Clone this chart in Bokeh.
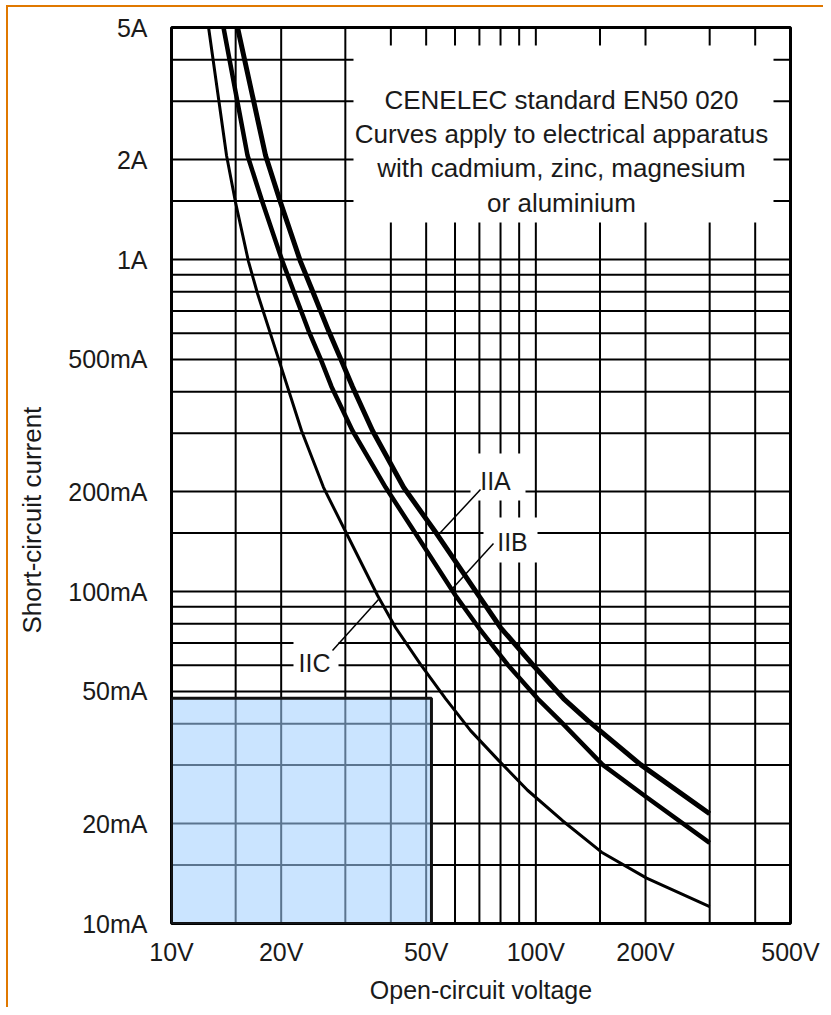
from math import log10
from bokeh.plotting import figure
from bokeh.models import FixedTicker, Range1d, Title
from bokeh.core.properties import value
from bokeh.embed import file_html
from bokeh.resources import INLINE

# ---------------- data ----------------
x_tick_values = [10, 20, 50, 100, 200, 500]
x_tick_labels = ["10V", "20V", "50V", "100V", "200V", "500V"]
y_tick_values = [10, 20, 50, 100, 200, 500, 1000, 2000, 5000]
y_tick_labels = ["10mA", "20mA", "50mA", "100mA", "200mA", "500mA", "1A", "2A", "5A"]

x_grid = [15, 20, 30, 40, 50, 60, 70, 80, 90, 100, 150, 200, 300, 400]
y_grid = [15, 20, 30, 40, 50, 60, 70, 80, 90, 100, 150, 200, 300, 400,
          500, 600, 700, 800, 900, 1000, 1500, 2000, 3000, 4000]

# open-circuit voltage (V) / short-circuit current (mA)
iia_v = [15.18, 18.12, 19.92, 22.60, 24.54, 26.97, 29.11, 31.39, 35.63, 43.35,
         53.40, 69.62, 80.0, 97.9, 119.1, 138.7, 193.9, 300]
iia_i = [5000, 2057, 1485, 986, 790, 611, 503, 414, 305, 206,
         149.5, 97.3, 77.9, 60.3, 47.6, 40.9, 30.1, 21.4]

iib_v = [13.89, 16.17, 17.78, 20.17, 21.76, 23.77, 25.64, 27.49, 31.39, 38.69,
         46.76, 60.20, 69.62, 83.6, 101.1, 116.2, 152.4, 201.4, 300]
iib_i = [5000, 2057, 1485, 986, 790, 611, 503, 414, 305, 206,
         149.5, 97.3, 77.9, 60.3, 47.6, 40.9, 30.1, 24.0, 17.5]

iic_v = [12.64, 14.16, 14.99, 16.27, 17.22, 19.66, 22.75, 26.13, 30.23, 36.78,
         41.20, 48.26, 56.52, 66.20, 79.0, 94.9, 118.4, 151.5, 201.4, 300]
iic_i = [5000, 2057, 1485, 986, 790, 503, 305, 206, 149.5, 97.3,
         77.9, 60.3, 47.6, 38.1, 31.0, 25.2, 20.4, 16.4, 13.7, 11.25]

safe_v = [10, 51.7]
safe_i = [10, 47.7]

curve_names = ["IIA", "IIB", "IIC"]
note_lines = ["CENELEC standard EN50 020",
              "Curves apply to electrical apparatus",
              "with cadmium, zinc, magnesium",
              "or aluminium"]

# ---------------- layout helpers ----------------
FONT = "Liberation Sans"
TXT = "#1a1a1a"
X0, X1, Y0, Y1 = 10, 500, 10, 5000
FL, FT, FW, FH = 171, 27, 619, 896   # frame position on page (px)
CX, CY = 8, 7                         # canvas origin on page (px)


def fx(px):
    return 10 ** (log10(X0) + (px - FL) / FW * (log10(X1) - log10(X0)))


def fy(py):
    return 10 ** (log10(Y0) + (FT + FH - py) / FH * (log10(Y1) - log10(Y0)))


p = figure(x_axis_type="log", y_axis_type="log",
           x_range=Range1d(X0, X1), y_range=Range1d(Y0, Y1),
           frame_width=FW, frame_height=FH,
           min_border_left=FL - CX, min_border_right=33,
           min_border_top=FT - CY, min_border_bottom=84,
           output_backend="svg", toolbar_location=None)
p.styles = {"border-top": "2px solid #e07800", "border-left": "2px solid #e07800",
            "margin-top": "5px", "margin-left": "6px"}
p.background_fill_color = "white"
p.border_fill_color = "white"
p.outline_line_color = "black"
p.outline_line_width = 3
p.xgrid.visible = False
p.ygrid.visible = False

for ax in (p.xaxis[0], p.yaxis[0]):
    ax.axis_line_color = None
    ax.major_tick_line_color = None
    ax.minor_tick_line_color = None
    ax.major_tick_out = 0
    ax.major_tick_in = 0
    ax.minor_tick_out = 0
    ax.minor_tick_in = 0
    ax.major_label_text_font = FONT
    ax.major_label_text_font_size = "25px"
    ax.major_label_text_color = TXT

p.xaxis.ticker = FixedTicker(ticks=x_tick_values)
p.xaxis.major_label_overrides = {v: t for v, t in zip(x_tick_values, x_tick_labels)}
p.xaxis.major_label_standoff = 14
p.yaxis.ticker = FixedTicker(ticks=y_tick_values)
p.yaxis.major_label_overrides = {v: t for v, t in zip(y_tick_values, y_tick_labels)}
p.yaxis.major_label_standoff = 24
# empty spacer label so that the title sits further left
p.yaxis.axis_label = " "
p.yaxis.axis_label_text_font_size = "8px"
p.yaxis.axis_label_standoff = 2

p.xaxis.axis_label = "Open-circuit voltage"
p.xaxis.axis_label_text_font = FONT
p.xaxis.axis_label_text_font_size = "25px"
p.xaxis.axis_label_text_font_style = "normal"
p.xaxis.axis_label_text_color = TXT
p.xaxis.axis_label_standoff = 7

ytitle = Title(text="Short-circuit current", align="left", offset=290,
               text_font=FONT, text_font_size="26px", text_font_style="normal",
               text_color=TXT)
p.add_layout(ytitle, "left")

# grid lines
p.segment(x0=x_grid, y0=[Y0] * len(x_grid), x1=x_grid, y1=[Y1] * len(x_grid),
          line_color="black", line_width=2)
p.segment(x0=[X0] * len(y_grid), y0=y_grid, x1=[X1] * len(y_grid), y1=y_grid,
          line_color="black", line_width=2)

# safe area box
p.quad(left=[safe_v[0]], right=[safe_v[1]], bottom=[safe_i[0]], top=[safe_i[1]],
       fill_color="#a0cfff", fill_alpha=0.56, line_color="#111111", line_width=3)

# white backgrounds for labels and note
p.quad(left=[fx(470), fx(483), fx(293), fx(353)],
       right=[fx(525), fx(537), fx(338), fx(773)],
       top=[fy(453), fy(517), fy(632), fy(45)],
       bottom=[fy(500), fy(562), fy(685), fy(222)],
       fill_color="white", line_color=None)

# curves
p.line(iic_v, iic_i, line_color="black", line_width=3, line_join="round")
p.line(iib_v, iib_i, line_color="black", line_width=4.5, line_join="round")
p.line(iia_v, iia_i, line_color="black", line_width=5, line_join="round")

# leader lines
p.segment(x0=[fx(440), fx(452), fx(378)], y0=[fy(532), fy(588), fy(599)],
          x1=[fx(480), fx(493), fx(332)], y1=[fy(489), fy(543), fy(650)],
          line_color="black", line_width=1.5)

p.text(x=[fx(495), fx(512), fx(314)], y=[fy(480), fy(541), fy(662)],
       text=curve_names, text_align="center", text_baseline="middle",
       text_font=value(FONT), text_font_size=value("25px"), text_color=TXT)

p.text(x=[fx(561)] * 4, y=[fy(99), fy(133), fy(167), fy(202)],
       text=note_lines, text_align="center", text_baseline="alphabetic",
       text_font=value(FONT), text_font_size=value("26px"), text_color=TXT)

open("out.html", "w").write(file_html(p, INLINE))
